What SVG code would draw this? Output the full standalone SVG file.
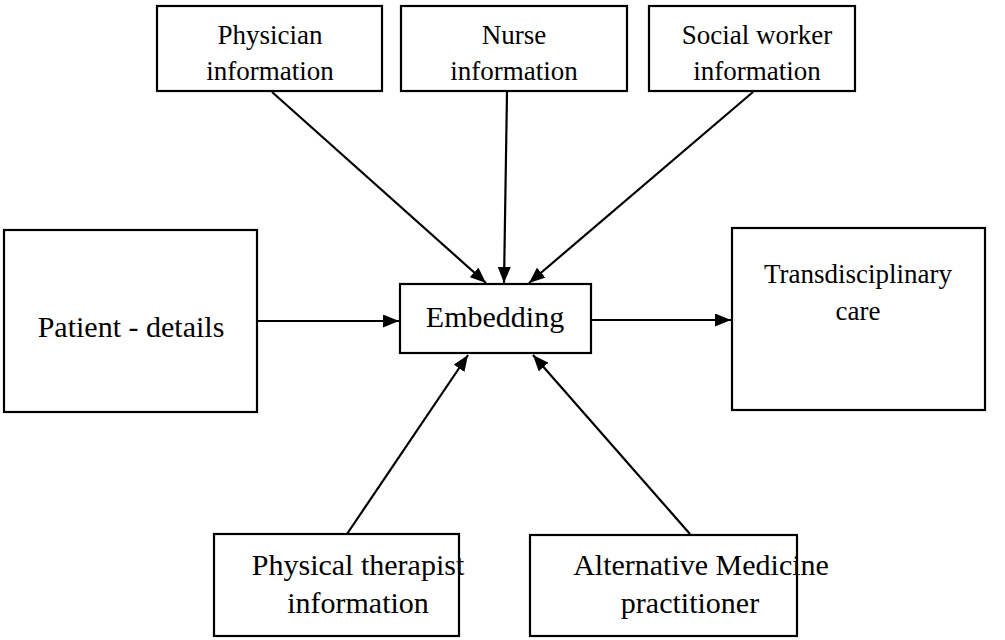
<svg xmlns="http://www.w3.org/2000/svg" width="1005" height="640" viewBox="0 0 1005 640">
<style>
.box{fill:#fff;stroke:#000;stroke-width:2.2}
text{font-family:'Liberation Serif','Times New Roman',Times,serif;fill:#000;text-anchor:middle}
.s{font-size:27px}
.m{font-size:30px}
.c{stroke:#000;stroke-width:2.2;fill:none;marker-end:url(#ah)}
</style>
<defs>
<marker id="ah" viewBox="0 0 16 13" refX="16" refY="6.5" markerWidth="16" markerHeight="13" markerUnits="userSpaceOnUse" orient="auto">
<path d="M0,0 L16,6.5 L0,13 Z" fill="#000"/>
</marker>
</defs>
<g id="connectors">
<line class="c" x1="272" y1="92" x2="486" y2="283"/>
<line class="c" x1="507" y1="92" x2="504" y2="283"/>
<line class="c" x1="753" y1="92" x2="529" y2="283"/>
<line class="c" x1="258" y1="321" x2="399" y2="321"/>
<line class="c" x1="592" y1="320" x2="731" y2="320"/>
<line class="c" x1="347" y1="534" x2="468" y2="355"/>
<line class="c" x1="690" y1="534" x2="533" y2="355"/>
</g>
<g id="physician">
<rect class="box" x="157" y="6" width="225" height="85"/>
<text class="s" x="270" y="44">Physician</text>
<text class="s" x="270" y="80">information</text>
</g>
<g id="nurse">
<rect class="box" x="401" y="6" width="226" height="85"/>
<text class="s" x="514" y="44">Nurse</text>
<text class="s" x="514" y="80">information</text>
</g>
<g id="social">
<rect class="box" x="649" y="6" width="206" height="85"/>
<text class="s" x="757" y="44">Social worker</text>
<text class="s" x="757" y="80">information</text>
</g>
<g id="embedding">
<rect class="box" x="400" y="284" width="191" height="69"/>
<text class="m" x="495" y="327">Embedding</text>
</g>
<g id="patient">
<rect class="box" x="4" y="230" width="253" height="182"/>
<text class="m" x="131" y="337">Patient - details</text>
</g>
<g id="transdisciplinary">
<rect class="box" x="732" y="228" width="253" height="182"/>
<text class="s" x="858" y="283">Transdisciplinary</text>
<text class="s" x="858" y="320">care</text>
</g>
<g id="physical">
<rect class="box" x="214" y="534" width="245" height="102"/>
<text class="m" x="358" y="575">Physical therapist</text>
<text class="m" x="358" y="613">information</text>
</g>
<g id="alternative">
<rect class="box" x="530" y="535" width="267" height="101"/>
<text class="m" x="701" y="575">Alternative Medicine</text>
<text class="m" x="690" y="613">practitioner</text>
</g>
</svg>
